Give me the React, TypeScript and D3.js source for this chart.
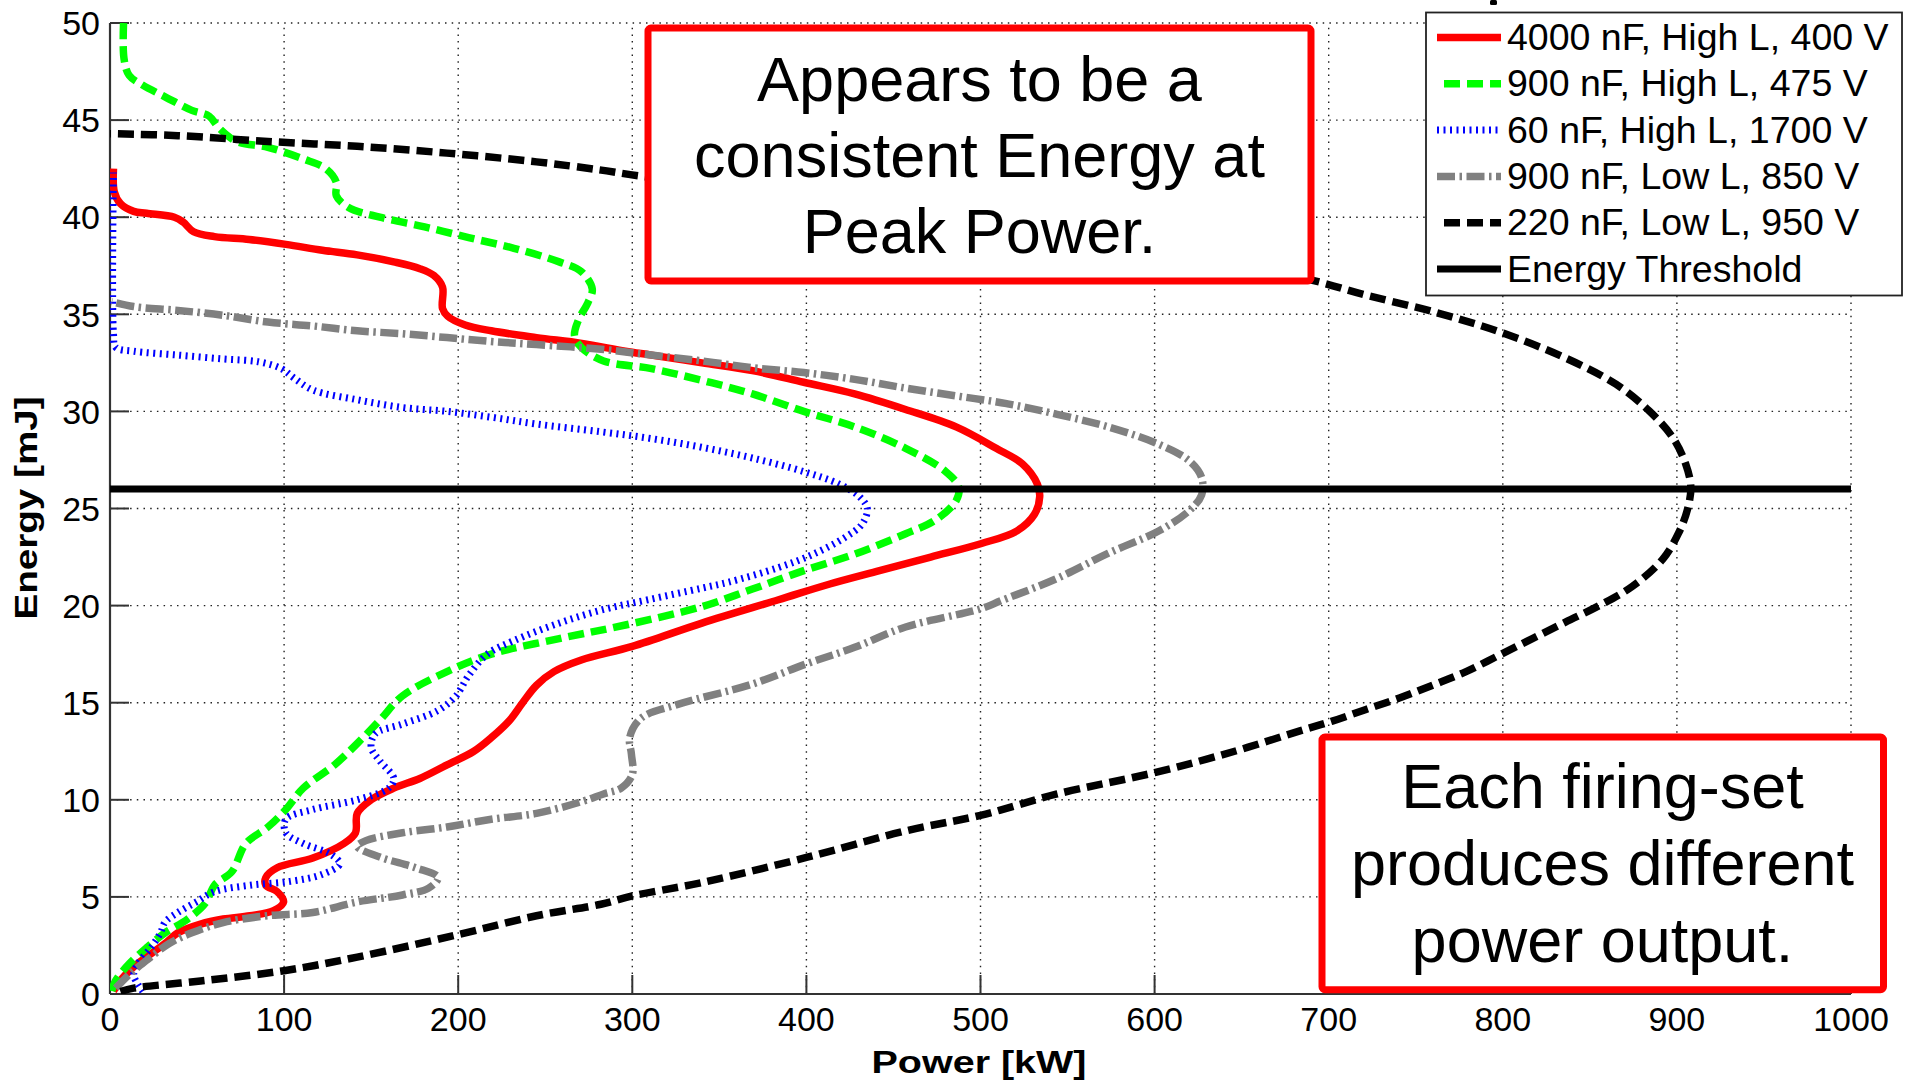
import React from 'react';
import * as d3 from 'd3';

// ---------- data (Power [kW], Energy [mJ]) ----------
const xTicks = [0, 100, 200, 300, 400, 500, 600, 700, 800, 900, 1000];
const yTicks = [0, 5, 10, 15, 20, 25, 30, 35, 40, 45, 50];

const seriesLabels = [
  '4000 nF, High L, 400 V',
  '900 nF, High L, 475 V',
  '60 nF, High L, 1700 V',
  '900 nF, Low L, 850 V',
  '220 nF, Low L, 950 V',
  'Energy Threshold',
];

const red4000: [number, number][] = [
  [2, 0.15], [6, 0.7], [13.6, 1.4], [24, 2.1], [31.6, 2.6], [39, 3.15], [52, 3.6], [65, 3.86],
  [80.5, 4.03], [94, 4.3], [99.7, 4.74], [96, 5.27], [89.5, 5.6], [89.5, 6.0], [96, 6.5],
  [116.5, 7.0], [134.4, 7.75], [141, 8.3], [142, 9.3], [150, 10.0], [163, 10.6], [178, 11.1],
  [193.6, 11.8], [209, 12.5], [219, 13.2], [229.6, 14.1], [237, 15.0], [245, 15.9], [255, 16.6],
  [270.7, 17.2], [300, 17.9], [340, 19.1], [384, 20.3], [413, 21.1], [442, 21.8], [471.4, 22.5],
  [500.6, 23.2], [521, 23.85], [531, 24.7], [534, 25.6], [532.7, 26.25], [524, 27.3], [509, 28.1],
  [486, 29.2], [456.9, 30.1], [427.7, 30.9], [398.5, 31.5], [369, 32.1], [340, 32.5], [311, 32.9],
  [296, 33.1], [271, 33.5], [245, 33.8], [219, 34.15], [204, 34.45], [194, 34.9], [191, 35.3],
  [191, 36.4], [186, 37.0], [178, 37.35], [163, 37.7], [142, 38.06], [122, 38.3], [101, 38.6],
  [80, 38.85], [60, 39.0], [48, 39.25], [42, 39.75], [37, 40.0], [21, 40.2], [13.6, 40.3],
  [6, 40.7], [2.5, 41.3], [2, 42.5],
];

const green900: [number, number][] = [
  [1, 0.15], [3.3, 0.7], [11, 1.55], [21.3, 2.4], [31.6, 3.15], [44.5, 3.85], [55, 4.7], [60, 5.6],
  [70, 6.3], [78, 7.75], [90.7, 8.6], [101, 9.5], [111, 10.6], [129, 11.8], [142, 12.9],
  [155, 14.1], [168, 15.35], [193.6, 16.6], [219, 17.5], [258, 18.3], [296, 19.0], [340, 19.95],
  [369, 20.85], [398.5, 21.8], [427.7, 22.65], [457, 23.7], [474, 24.4], [486, 25.4], [487.5, 26.1],
  [480, 26.9], [457, 28.1], [427.7, 29.2], [398.5, 30.0], [369, 30.9], [340, 31.6], [311, 32.2],
  [283.5, 32.6], [270.7, 33.3], [266.8, 33.9], [269, 34.7], [274.5, 35.6], [277, 36.3],
  [270.7, 37.2], [258, 37.7], [232, 38.4], [206, 38.95], [180.7, 39.5], [155, 40.0], [137, 40.5],
  [130, 41.1], [130, 41.8], [124, 42.5], [111, 43.0], [90.7, 43.6], [72.8, 43.9], [62.5, 44.6],
  [57, 45.2], [47, 45.5], [31.6, 46.2], [18.8, 46.8], [11, 47.3], [8, 48.2], [8, 50.5],
];

const blue60: [number, number][] = [
  [18.8, 0.13], [16, 0.5], [13.6, 1.0], [16, 1.55], [24, 2.45], [29, 3.15], [31.6, 3.7], [39, 4.2],
  [49.6, 4.74], [60, 5.27], [80.5, 5.6], [103.6, 5.8], [121.6, 6.15], [132, 6.7], [126.7, 7.2],
  [111, 7.75], [101, 8.3], [101, 9.0], [116.5, 9.5], [142, 10.0], [160, 10.6], [163, 11.1],
  [155, 12.0], [150, 12.7], [152.4, 13.4], [168, 13.9], [188.4, 14.6], [198.7, 15.35], [206, 16.4],
  [216.7, 17.5], [232, 18.2], [258, 19.1], [283.5, 19.8], [309, 20.3], [340, 20.9], [355, 21.2],
  [384, 21.96], [404, 22.65], [422, 23.5], [432, 24.2], [435, 25.0], [430.6, 25.6], [419, 26.25],
  [398.5, 26.9], [369, 27.6], [340, 28.15], [311, 28.6], [282, 28.95], [245, 29.35], [219, 29.7],
  [193.6, 30.0], [168, 30.2], [142, 30.6], [116.5, 31.1], [106, 31.7], [98.5, 32.2], [85.6, 32.55],
  [65, 32.7], [39, 32.9], [13.6, 33.1], [3.3, 33.3], [2, 34], [2, 42.3],
];

const gray900: [number, number][] = [
  [3.3, 0.3], [11, 1.0], [21, 1.73], [34, 2.6], [47, 3.15], [65, 3.68], [90.7, 4.03], [116.5, 4.2],
  [142, 4.74], [168, 5.1], [183, 5.45], [188.4, 6.0], [175.6, 6.5], [155, 7.05], [142, 7.6],
  [147, 7.9], [168, 8.3], [193.6, 8.6], [219, 9.0], [245, 9.3], [270.7, 9.9], [283.5, 10.3],
  [293.6, 10.6], [300, 11.3], [299.5, 12.35], [298.5, 13.2], [305, 14.2], [325.7, 14.9],
  [369, 15.96], [400, 17.0], [427.7, 17.85], [457, 18.9], [500, 19.83], [512, 20.26], [544, 21.4],
  [573.5, 22.7], [602.6, 23.85], [620, 24.9], [627, 25.7], [627, 26.6], [620, 27.45], [602.6, 28.3],
  [573.5, 29.2], [544, 29.85], [515, 30.4], [486, 30.8], [457, 31.2], [427.7, 31.65], [398.5, 32.0],
  [369, 32.25], [340, 32.6], [311, 32.9], [282, 33.2], [245, 33.44], [219, 33.6], [193.6, 33.8],
  [168, 34.0], [142, 34.15], [116.5, 34.4], [90.7, 34.6], [65, 34.95], [39, 35.2], [13.6, 35.4],
  [1, 35.65],
];

const black220: [number, number][] = [
  [6, 0.13], [13.6, 0.3], [52, 0.67], [100, 1.2], [142, 1.9], [200, 3.06], [245, 4.03], [282, 4.62],
  [300, 5.05], [340, 5.74], [400, 7.03], [457, 8.4], [500, 9.2], [544, 10.3], [600, 11.4],
  [646, 12.5], [683, 13.54], [702, 14.05], [721, 14.64], [740.6, 15.24], [759.7, 15.9],
  [778.9, 16.6], [798, 17.45], [817, 18.3], [836, 19.15], [855.4, 20.0], [874.5, 21.0],
  [891.8, 22.38], [901, 23.74], [906, 24.93], [908, 26.1], [905, 27.3], [897.5, 28.67], [884, 30.03],
  [865, 31.4], [836, 32.75], [798, 34.1], [759.7, 35.14], [721.4, 35.99], [690.8, 36.75],
  [600, 38.6], [500, 40.0], [400, 41.2], [306, 42.1], [281, 42.44], [245, 42.85], [193.6, 43.3],
  [142, 43.65], [90.7, 43.9], [39, 44.2], [0, 44.3],
];

const thresholdEnergy = 26;

const annotation1 = ['Appears to be a', 'consistent Energy at', 'Peak Power.'];
const annotation2 = ['Each firing-set', 'produces different', 'power output.'];

// ---------- styles ----------
const FONT = "'Liberation Sans', Arial, Helvetica, sans-serif";
const styles = [
  { color: '#ff0000', dash: undefined as string | undefined, width: 7.5 },
  { color: '#00ff00', dash: '16 7', width: 7.5 },
  { color: '#0000ff', dash: '2 4.5', width: 7 },
  { color: '#808080', dash: '18 4.5 2.5 4.5', width: 7.5 },
  { color: '#000000', dash: '16 7', width: 7.5 },
  { color: '#000000', dash: undefined as string | undefined, width: 7 },
];

export default function App() {
  const x = d3.scaleLinear().domain([0, 1000]).range([110, 1851]);
  const y = d3.scaleLinear().domain([0, 50]).range([994, 23]);
  const line = d3
    .line<[number, number]>()
    .x((d) => x(d[0]))
    .y((d) => y(d[1]))
    .curve(d3.curveCatmullRom.alpha(0.5));

  const series = [red4000, green900, blue60, gray900, black220];
  const [x0, x1] = x.range();
  const [y0, y1] = y.range();

  const legendX = 1426, legendY = 12.5, legendW = 476, legendH = 283;
  const legendBase = [50, 96.3, 142.6, 188.9, 235.2, 281.5];

  return (
    <svg
      width={1915}
      height={1081}
      style={{ position: 'absolute', left: 0, top: 0, background: '#fff' }}
      fontFamily={FONT}
    >
      <defs>
        <clipPath id="plotClip">
          <rect x={x0} y={y1} width={x1 - x0} height={y0 - y1} />
        </clipPath>
      </defs>
      <rect x={0} y={0} width={1915} height={1081} fill="#fff" />

      {/* grid */}
      {xTicks.map((t) => (
        <line key={'gx' + t} x1={x(t)} x2={x(t)} y1={y0} y2={y1} stroke="#222" strokeWidth={1.4} strokeDasharray="1.5 5.2" />
      ))}
      {yTicks.map((t) => (
        <line key={'gy' + t} x1={x0} x2={x1} y1={y(t)} y2={y(t)} stroke="#222" strokeWidth={1.4} strokeDasharray="1.5 5.2" />
      ))}

      {/* axes */}
      <line x1={x0} x2={x1} y1={y0} y2={y0} stroke="#333" strokeWidth={2.2} />
      <line x1={x0} x2={x0} y1={y0} y2={y1} stroke="#333" strokeWidth={2.2} />
      {xTicks.map((t) => (
        <line key={'tx' + t} x1={x(t)} x2={x(t)} y1={y0} y2={y0 - 19} stroke="#333" strokeWidth={2} />
      ))}
      {yTicks.map((t) => (
        <line key={'ty' + t} x1={x0} x2={x0 + 19} y1={y(t)} y2={y(t)} stroke="#333" strokeWidth={2} />
      ))}
      {xTicks.map((t) => (
        <text key={'lx' + t} x={x(t)} y={1031} fontSize={34} textAnchor="middle" fill="#000">
          {t}
        </text>
      ))}
      {yTicks.map((t) => (
        <text key={'ly' + t} x={100} y={y(t)} dy="0.36em" fontSize={34} textAnchor="end" fill="#000">
          {t}
        </text>
      ))}

      {/* axis labels */}
      <text x={979} y={1073} fontSize={32} fontWeight="bold" textAnchor="middle" textLength={215} lengthAdjust="spacingAndGlyphs">
        Power [kW]
      </text>
      <text
        transform="translate(37,508) rotate(-90)"
        fontSize={32}
        fontWeight="bold"
        textAnchor="middle"
        textLength={223}
        lengthAdjust="spacingAndGlyphs"
      >
        Energy [mJ]
      </text>

      {/* series */}
      <g clipPath="url(#plotClip)" fill="none" strokeLinejoin="round">
        {series.map((s, i) => (
          <path
            key={'s' + i}
            d={line(s) || ''}
            stroke={styles[i].color}
            strokeWidth={styles[i].width}
            strokeDasharray={styles[i].dash}
          />
        ))}
        <line
          x1={x(0)}
          x2={x(1000)}
          y1={y(thresholdEnergy)}
          y2={y(thresholdEnergy)}
          stroke={styles[5].color}
          strokeWidth={styles[5].width}
        />
      </g>

      {/* annotation boxes */}
      <rect x={648} y={28} width={663} height={253} rx={3} fill="#fff" stroke="#ff0000" strokeWidth={7} />
      {annotation1.map((t, i) => (
        <text key={'a1' + i} x={979.5} y={100.6 + i * 76.3} fontSize={63} textAnchor="middle" fill="#000">
          {t}
        </text>
      ))}
      <rect x={1322} y={737} width={561.5} height={252.7} rx={3} fill="#fff" stroke="#ff0000" strokeWidth={7} />
      {annotation2.map((t, i) => (
        <text key={'a2' + i} x={1602.5} y={808 + i * 77} fontSize={63} textAnchor="middle" fill="#000">
          {t}
        </text>
      ))}

      {/* legend */}
      <rect x={legendX} y={legendY} width={legendW} height={legendH} fill="#fff" stroke="#222" strokeWidth={1.8} />
      {seriesLabels.map((lab, i) => {
        const by = legendBase[i];
        const ly = by - 12.5;
        const startX = i === 1 || i === 4 ? 1444 : 1437;
        return (
          <g key={'lg' + i}>
            <line
              x1={startX}
              x2={1501}
              y1={ly}
              y2={ly}
              stroke={styles[i].color}
              strokeWidth={styles[i].width}
              strokeDasharray={styles[i].dash}
            />
            <text x={1507} y={by} fontSize={37.5} fill="#000">
              {lab}
            </text>
          </g>
        );
      })}

      {/* cropped title fragment at top */}
      <rect x={1490} y={0} width={7} height={5} rx={1.5} fill="#000" />
    </svg>
  );
}
